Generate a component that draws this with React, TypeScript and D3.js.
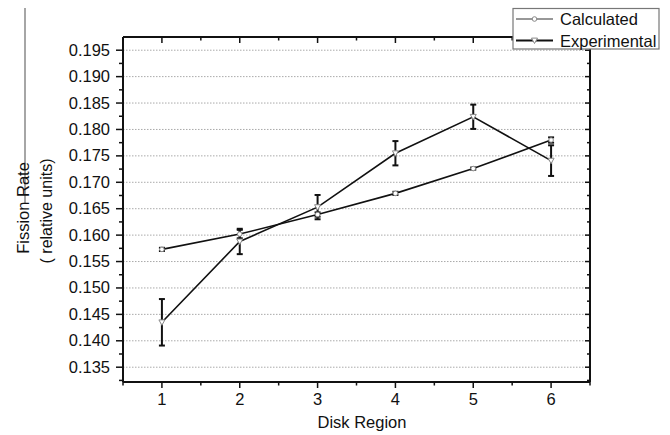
import React from "react";
import { scaleLinear, line } from "d3";

// data
const regions = [1, 2, 3, 4, 5, 6];
const calculated = [0.1573, 0.1602, 0.1639, 0.1679, 0.1726, 0.178];
const calculatedErr = [0.0003, 0.0008, 0.0004, 0.0003, 0.0002, 0.0005];
const experimental = [0.1435, 0.1588, 0.1653, 0.1755, 0.1824, 0.1741];
const experimentalErr = [0.0044, 0.0024, 0.0023, 0.0023, 0.0023, 0.0029];
const yTicks = [0.135, 0.14, 0.145, 0.15, 0.155, 0.16, 0.165, 0.17, 0.175, 0.18, 0.185, 0.19, 0.195];
const xTicks = [1, 2, 3, 4, 5, 6];

const W = 670, H = 435;
const left = 123, right = 590, top = 37, bottom = 382;
const font = "Arial, 'Liberation Sans', Helvetica, sans-serif";

function App() {
  const x = scaleLinear().domain([0.5, 6.5]).range([left, right]);
  const y = scaleLinear().domain([0.1322, 0.1975]).range([bottom, top]);

  const calcPts = regions.map((r, i) => ({ r, v: calculated[i], e: calculatedErr[i] }));
  const expPts = regions.map((r, i) => ({ r, v: experimental[i], e: experimentalErr[i] }));

  const path = line<{ r: number; v: number }>()
    .x(d => x(d.r))
    .y(d => y(d.v));

  const yMinor = [];
  for (let v = 0.1325; v < 0.1975; v += 0.0025) yMinor.push(+v.toFixed(4));
  const xMinor = [0.5, 1.5, 2.5, 3.5, 4.5, 5.5, 6.5];

  const errBar = (d, key) => (
    <g key={key} stroke="#111" strokeWidth={2}>
      <line x1={x(d.r)} x2={x(d.r)} y1={y(d.v - d.e)} y2={y(d.v + d.e)} />
      <line x1={x(d.r) - 3} x2={x(d.r) + 3} y1={y(d.v - d.e)} y2={y(d.v - d.e)} />
      <line x1={x(d.r) - 3} x2={x(d.r) + 3} y1={y(d.v + d.e)} y2={y(d.v + d.e)} />
    </g>
  );

  const tri = (cx, cy, s = 3) => `M${cx - s},${cy - s * 0.8}L${cx + s},${cy - s * 0.8}L${cx},${cy + s}Z`;

  return (
    <svg width={W} height={H} style={{ position: "absolute", left: 0, top: 0, background: "#fff" }}
      fontFamily={font}>
      {/* stray frame line at far left */}
      <line x1={25} x2={25} y1={8} y2={203} stroke="#888" strokeWidth={1.5} />

      {/* grid */}
      {yTicks.map(t => (
        <line key={"g" + t} x1={left} x2={right} y1={y(t)} y2={y(t)}
          stroke="#aaa" strokeWidth={1} strokeDasharray="1.5,1.5" />
      ))}

      {/* axes frame */}
      <g stroke="#111" strokeWidth={2} fill="none">
        <line x1={left} x2={right} y1={top} y2={top} />
        <line x1={left} x2={right} y1={bottom} y2={bottom} />
        <line x1={left} x2={left} y1={top} y2={bottom} />
        <line x1={right} x2={right} y1={top} y2={bottom} />
      </g>

      {/* ticks */}
      <g stroke="#111" strokeWidth={1.5}>
        {yTicks.map(t => (
          <g key={"yt" + t}>
            <line x1={left - 7} x2={left} y1={y(t)} y2={y(t)} />
            <line x1={right - 5} x2={right} y1={y(t)} y2={y(t)} />
          </g>
        ))}
        {yMinor.filter(v => !yTicks.some(t => Math.abs(t - v) < 1e-6)).map(v => (
          <g key={"ym" + v}>
            <line x1={left - 4} x2={left} y1={y(v)} y2={y(v)} />
            <line x1={right - 3} x2={right} y1={y(v)} y2={y(v)} />
          </g>
        ))}
        {xTicks.map(t => (
          <g key={"xt" + t}>
            <line x1={x(t)} x2={x(t)} y1={bottom} y2={bottom + 6} />
            <line x1={x(t)} x2={x(t)} y1={top} y2={top + 6} />
          </g>
        ))}
        {xMinor.map(t => (
          <g key={"xm" + t}>
            <line x1={x(t)} x2={x(t)} y1={bottom} y2={bottom + 3.5} />
            <line x1={x(t)} x2={x(t)} y1={top} y2={top + 3.5} />
          </g>
        ))}
      </g>

      {/* tick labels */}
      <g fontSize={16.5} fill="#111">
        {yTicks.map(t => (
          <text key={"yl" + t} x={110} y={y(t) + 5.5} textAnchor="end">{t.toFixed(3)}</text>
        ))}
        {xTicks.map(t => (
          <text key={"xl" + t} x={x(t)} y={405} textAnchor="middle">{t}</text>
        ))}
      </g>

      {/* axis titles */}
      <g fontSize={16.5} fill="#111">
        <text x={362} y={428} textAnchor="middle">Disk Region</text>
        <text transform="translate(29,208) rotate(-90)" textAnchor="middle">Fission Rate</text>
        <text transform="translate(52,211) rotate(-90)" fontSize={16} textAnchor="middle">( relative units)</text>
      </g>

      {/* series lines */}
      <path d={path(calcPts)} fill="none" stroke="#111" strokeWidth={1.6} />
      <path d={path(expPts)} fill="none" stroke="#111" strokeWidth={1.6} />

      {/* error bars */}
      {calcPts.map((d, i) => errBar(d, "ce" + i))}
      {expPts.map((d, i) => errBar(d, "ee" + i))}

      {/* markers */}
      {calcPts.map((d, i) => (
        <circle key={"cm" + i} cx={x(d.r)} cy={y(d.v)} r={2.3} fill="#fff" stroke="#888" strokeWidth={1} />
      ))}
      {expPts.map((d, i) => (
        <path key={"em" + i} d={tri(x(d.r), y(d.v))} fill="#fff" stroke="#888" strokeWidth={1} />
      ))}

      {/* legend */}
      <g>
        <rect x={513} y={8.5} width={146} height={40.5} fill="#fff" stroke="#777" strokeWidth={1.2} />
        <line x1={516} x2={553} y1={19} y2={19} stroke="#333" strokeWidth={1.2} />
        <circle cx={534.5} cy={19} r={2.3} fill="#fff" stroke="#888" strokeWidth={1} />
        <line x1={516} x2={553} y1={40.5} y2={40.5} stroke="#111" strokeWidth={2} />
        <path d={tri(534.5, 40.5)} fill="#fff" stroke="#888" strokeWidth={1} />
        <text x={560} y={25} fontSize={16.5} fill="#111">Calculated</text>
        <text x={560} y={46.5} fontSize={16.5} fill="#111">Experimental</text>
      </g>
    </svg>
  );
}

export default App;
